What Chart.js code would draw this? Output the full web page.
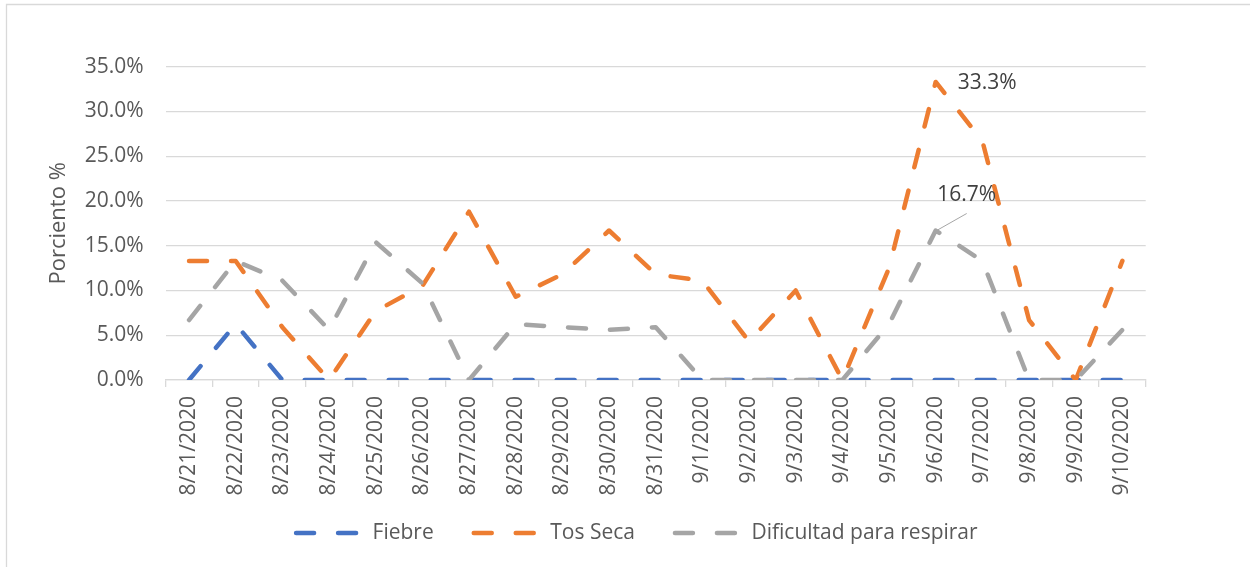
<!DOCTYPE html>
<html>
<head>
<meta charset="utf-8">
<script src="https://cdn.jsdelivr.net/npm/chart.js@4/dist/chart.umd.min.js"></script>
<style>
    body { margin: 0; background: #ffffff; }
    #wrap { width: 1250px; height: 567px; position: relative; }
</style>
</head>
<body>
<div id="wrap"><canvas id="chart"></canvas></div>
<script>
const dates = ['8/21/2020', '8/22/2020', '8/23/2020', '8/24/2020', '8/25/2020', '8/26/2020', '8/27/2020',
    '8/28/2020', '8/29/2020', '8/30/2020', '8/31/2020', '9/1/2020', '9/2/2020', '9/3/2020', '9/4/2020',
    '9/5/2020', '9/6/2020', '9/7/2020', '9/8/2020', '9/9/2020', '9/10/2020'];
const fiebre = [0, 6.25, 0, 0, 0, 0, 0, 0, 0, 0, 0, 0, 0, 0, 0, 0, 0, 0, 0, 0, 0];
const tosSeca = [13.3, 13.3, 5.9, 0, 7.7, 10.5, 18.8, 9.3, 11.8, 16.7, 11.8, 11.1, 4.3, 10.0, 0,
    12.5, 33.3, 26.7, 6.7, 0, 13.3];
const dificultad = [6.7, 13.3, 11.1, 5.6, 15.4, 10.8, 0, 6.25, 5.9, 5.6, 5.9, 0, 0, 0, 0,
    6.25, 16.7, 13.3, 0, 0, 5.6];
const yTicks = [0, 5, 10, 15, 20, 25, 30, 35];

Chart.defaults.font.family = "'Open Sans', sans-serif";
Chart.defaults.color = '#595959';

// white background, thin frame on the left/top edges, and legend placement
const framePlugin = {
    id: 'frame',
    beforeDraw: (chart) => {
        const ctx = chart.ctx;
        ctx.save();
        ctx.fillStyle = '#ffffff';
        ctx.fillRect(0, 0, chart.width, chart.height);
        ctx.strokeStyle = '#d9d9d9';
        ctx.lineWidth = 1.3;
        ctx.beginPath();
        ctx.moveTo(6.5, chart.height);
        ctx.lineTo(6.5, 4.5);
        ctx.lineTo(chart.width, 4.5);
        ctx.stroke();
        ctx.restore();

        // the legend sits a bit higher and right of where the layout puts it
        const lg = chart.legend;
        const h = lg.bottom - lg.top;
        const w = lg.right - lg.left;
        lg.top = 482.5;
        lg.bottom = lg.top + h;
        lg.left = 636.85 - w / 2;
        lg.right = lg.left + w;
    }
};

// value labels on the peak of "Tos Seca" and "Dificultad para respirar"
const peakLabelPlugin = {
    id: 'peakLabels',
    afterDatasetsDraw: (chart) => {
        const ctx = chart.ctx;
        ctx.save();
        ctx.font = "21px 'Open Sans', sans-serif";
        ctx.fillStyle = '#404040';
        ctx.textBaseline = 'middle';

        const tosIdx = tosSeca.indexOf(Math.max(...tosSeca));
        const p1 = chart.getDatasetMeta(1).data[tosIdx];
        ctx.textAlign = 'left';
        ctx.fillText(tosSeca[tosIdx].toFixed(1) + '%', p1.x + 22, p1.y + 1);

        const difIdx = dificultad.indexOf(Math.max(...dificultad));
        const p2 = chart.getDatasetMeta(2).data[difIdx];
        ctx.strokeStyle = '#a6a6a6';
        ctx.lineWidth = 1;
        ctx.beginPath();
        ctx.moveTo(p2.x + 1, p2.y);
        ctx.lineTo(p2.x + 31, p2.y - 17);
        ctx.stroke();
        ctx.textAlign = 'center';
        ctx.fillText(dificultad[difIdx].toFixed(1) + '%', p2.x + 31, p2.y - 35);
        ctx.restore();
    }
};

const lineStyle = {
    borderWidth: 4.5,
    borderDash: [18, 24],
    borderCapStyle: 'round',
    borderJoinStyle: 'round',
    pointRadius: 0,
    pointHoverRadius: 0,
    pointStyle: 'line',
    tension: 0,
    fill: false
};

new Chart(document.getElementById('chart'), {
    type: 'line',
    plugins: [framePlugin, peakLabelPlugin],
    data: {
        labels: dates,
        datasets: [
            { label: 'Fiebre', data: fiebre, borderColor: '#4472c4', backgroundColor: '#4472c4', order: 2, ...lineStyle },
            { label: 'Tos Seca', data: tosSeca, borderColor: '#ed7d31', backgroundColor: '#ed7d31', order: 1, ...lineStyle },
            { label: 'Dificultad para respirar', data: dificultad, borderColor: '#a5a5a5', backgroundColor: '#a5a5a5', order: 0, ...lineStyle }
        ]
    },
    options: {
        responsive: true,
        maintainAspectRatio: false,
        animation: false,
        layout: {
            padding: { left: 40, right: 104.3, top: 66.7, bottom: 0 }
        },
        plugins: {
            tooltip: { enabled: false },
            legend: {
                position: 'bottom',
                labels: {
                    usePointStyle: true,
                    pointStyleWidth: 66,
                    padding: 40,
                    color: '#595959',
                    font: { size: 21 },
                    sort: (a, b) => a.datasetIndex - b.datasetIndex,
                    generateLabels(chart) {
                        const items = Chart.defaults.plugins.legend.labels.generateLabels(chart);
                        items.forEach(item => {
                            const ds = chart.data.datasets[item.datasetIndex];
                            item.lineDash = ds.borderDash;
                            item.lineDashOffset = 0;
                            item.lineCap = 'round';
                            item.lineWidth = ds.borderWidth;
                            item.strokeStyle = ds.borderColor;
                        });
                        return items;
                    }
                }
            }
        },
        scales: {
            x: {
                offset: true,
                afterFit: (scale) => { scale.height = 116; },
                grid: {
                    offset: true,
                    drawOnChartArea: false,
                    drawTicks: true,
                    tickLength: 7,
                    color: '#d9d9d9',
                    lineWidth: 1.3
                },
                border: { display: true, color: '#d9d9d9', width: 1.3 },
                ticks: {
                    autoSkip: false,
                    minRotation: 90,
                    maxRotation: 90,
                    padding: 9,
                    color: '#595959',
                    font: { size: 21 }
                }
            },
            y: {
                min: 0,
                max: 35,
                afterFit: (scale) => { scale.width = 165.7 - 40; },
                afterBuildTicks: (scale) => {
                    scale.ticks = yTicks.map(v => ({ value: v }));
                },
                grid: {
                    drawTicks: false,
                    color: '#d9d9d9',
                    lineWidth: 1.3
                },
                border: { display: false },
                ticks: {
                    padding: 22,
                    color: '#595959',
                    font: { size: 21 },
                    callback: (v) => v.toFixed(1) + '%'
                },
                title: {
                    display: true,
                    text: 'Porciento %',
                    color: '#595959',
                    font: { size: 22 },
                    padding: { top: 5.8, bottom: 0 }
                }
            }
        }
    }
});
</script>
</body>
</html>
